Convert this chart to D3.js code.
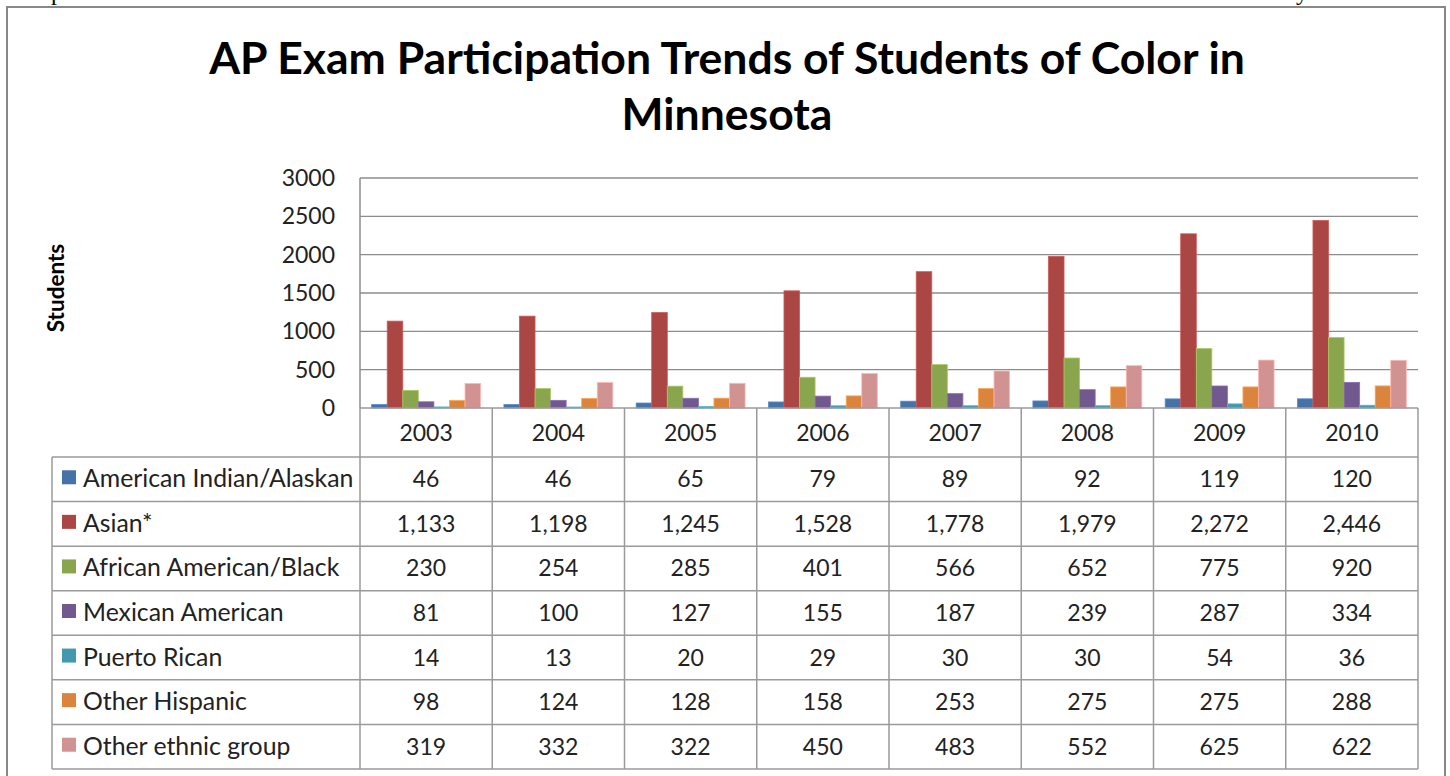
<!DOCTYPE html>
<html>
<head>
<meta charset="utf-8">
<script src="https://cdn.jsdelivr.net/npm/d3@7"></script>
<style>
  html, body { margin: 0; padding: 0; background: #fff; }
  svg { display: block; }
  text { font-family: Lato, "Open Sans", sans-serif; fill: #222; }
</style>
</head>
<body>
<svg id="chart" width="1450" height="776"></svg>
<script>
// ---- data ----
const years = ["2003", "2004", "2005", "2006", "2007", "2008", "2009", "2010"];
const seriesNames = ["American Indian/Alaskan", "Asian*", "African American/Black", "Mexican American", "Puerto Rican", "Other Hispanic", "Other ethnic group"];
const americanIndian = [46, 46, 65, 79, 89, 92, 119, 120];
const asian = [1133, 1198, 1245, 1528, 1778, 1979, 2272, 2446];
const africanAmerican = [230, 254, 285, 401, 566, 652, 775, 920];
const mexicanAmerican = [81, 100, 127, 155, 187, 239, 287, 334];
const puertoRican = [14, 13, 20, 29, 30, 30, 54, 36];
const otherHispanic = [98, 124, 128, 158, 253, 275, 275, 288];
const otherEthnic = [319, 332, 322, 450, 483, 552, 625, 622];
const yTicks = [0, 500, 1000, 1500, 2000, 2500, 3000];
const titleLines = ["AP Exam Participation Trends of Students of Color in", "Minnesota"];
const yAxisTitle = "Students";

const seriesValues = [americanIndian, asian, africanAmerican, mexicanAmerican, puertoRican, otherHispanic, otherEthnic];
const colors = ["#4572A7", "#AA4643", "#89A54E", "#71588F", "#4198AF", "#DB843D", "#D19392"];

const svg = d3.select("#chart");

// fragments of surrounding document text (descenders only visible, as in the page)
svg.append("text").attr("x", 51).attr("y", 0).style("font-family", "'Liberation Serif', serif").style("font-size", "24px").style("fill", "#000").text("p");
svg.append("text").attr("x", 1296).attr("y", 0).style("font-family", "'Liberation Serif', serif").style("font-size", "24px").style("fill", "#000").text("y");

// outer chart border
svg.append("rect").attr("x", 7).attr("y", 7).attr("width", 1438).attr("height", 790)
  .attr("fill", "none").attr("stroke", "#888").attr("stroke-width", 2);

// title
svg.append("g").selectAll("text").data(titleLines).join("text")
  .attr("x", 727).attr("y", (d, i) => 74 + i * 56)
  .attr("text-anchor", "middle")
  .style("font-size", "44.5px").style("font-weight", "bold").style("fill", "#000")
  .text(d => d);

// scales
const plotLeft = 360, plotRight = 1418, plotTop = 178, plotBottom = 408;
const x0 = d3.scaleBand().domain(years).range([plotLeft, plotRight]).padding(0);
const x1 = d3.scaleBand().domain(d3.range(seriesNames.length)).range([0, x0.bandwidth()])
  .paddingInner(0).paddingOuter(0.75);
const y = d3.scaleLinear().domain([0, 3000]).range([plotBottom, plotTop]);

// gridlines
svg.append("g").selectAll("line").data(yTicks.filter(t => t > 0)).join("line")
  .attr("x1", plotLeft).attr("x2", plotRight)
  .attr("y1", d => y(d)).attr("y2", d => y(d))
  .attr("stroke", "#8c8c8c").attr("stroke-width", 1.3);

// y axis labels
svg.append("g").selectAll("text").data(yTicks).join("text")
  .attr("x", 335).attr("y", d => y(d) + 8)
  .attr("text-anchor", "end")
  .style("font-size", "23px")
  .text(d => d);

// y axis title
svg.append("text")
  .attr("transform", "translate(64,288) rotate(-90)")
  .attr("text-anchor", "middle")
  .style("font-size", "22.5px").style("font-weight", "bold").style("fill", "#000")
  .text(yAxisTitle);

// bars
const gBars = svg.append("g");
seriesValues.forEach((vals, si) => {
  gBars.append("g").selectAll("rect").data(vals).join("rect")
    .attr("x", (d, i) => x0(years[i]) + x1(si))
    .attr("width", x1.bandwidth())
    .attr("y", d => y(d))
    .attr("height", d => y(0) - y(d))
    .attr("fill", colors[si])
    .attr("stroke", d3.color(colors[si]).brighter(0.6))
    .attr("stroke-width", 0.8);
});

// data table
const tableLeft = 52, headerTop = plotBottom, headerBottom = 457, tableBottom = 769;
const rowY = d3.scaleBand().domain(d3.range(seriesNames.length)).range([headerBottom, tableBottom]);
const gridColor = "#9a9a9a";
const gT = svg.append("g");

// horizontal lines
gT.append("line").attr("x1", plotLeft).attr("x2", plotRight).attr("y1", headerTop).attr("y2", headerTop)
  .attr("stroke", gridColor).attr("stroke-width", 1.5);
const hLines = d3.range(seriesNames.length + 1).map(i => headerBottom + i * rowY.step());
gT.selectAll("line.h").data(hLines).join("line").attr("class", "h")
  .attr("x1", tableLeft).attr("x2", plotRight).attr("y1", d => d).attr("y2", d => d)
  .attr("stroke", gridColor).attr("stroke-width", 1.5);

// vertical lines
const vLines = years.map(yr => x0(yr)).concat([plotRight]);
gT.selectAll("line.v").data(vLines).join("line").attr("class", "v")
  .attr("x1", d => d).attr("x2", d => d).attr("y1", headerTop).attr("y2", tableBottom)
  .attr("stroke", gridColor).attr("stroke-width", 1.5);
gT.append("line").attr("x1", tableLeft).attr("x2", tableLeft).attr("y1", headerBottom).attr("y2", tableBottom)
  .attr("stroke", gridColor).attr("stroke-width", 1.5);
// left axis line over plot
svg.append("line").attr("x1", plotLeft).attr("x2", plotLeft).attr("y1", plotTop).attr("y2", headerTop)
  .attr("stroke", "#8c8c8c").attr("stroke-width", 1.5);

// year headers
gT.selectAll("text.yr").data(years).join("text").attr("class", "yr")
  .attr("x", d => x0(d) + x0.bandwidth() / 2)
  .attr("y", 441)
  .attr("text-anchor", "middle")
  .style("font-size", "23px")
  .text(d => d);

// legend column + values
seriesNames.forEach((name, si) => {
  const cy = rowY(si) + rowY.bandwidth() / 2;
  gT.append("rect").attr("x", 62).attr("y", cy - 9).attr("width", 14).attr("height", 14)
    .attr("fill", colors[si]);
  gT.append("text").attr("x", 83).attr("y", cy + 8)
    .style("font-size", "24.8px")
    .text(name);
  gT.append("g").selectAll("text").data(seriesValues[si]).join("text")
    .attr("x", (d, i) => x0(years[i]) + x0.bandwidth() / 2)
    .attr("y", cy + 8)
    .attr("text-anchor", "middle")
    .style("font-size", "23px")
    .text(d => d3.format(",")(d));
});
</script>
</body>
</html>
